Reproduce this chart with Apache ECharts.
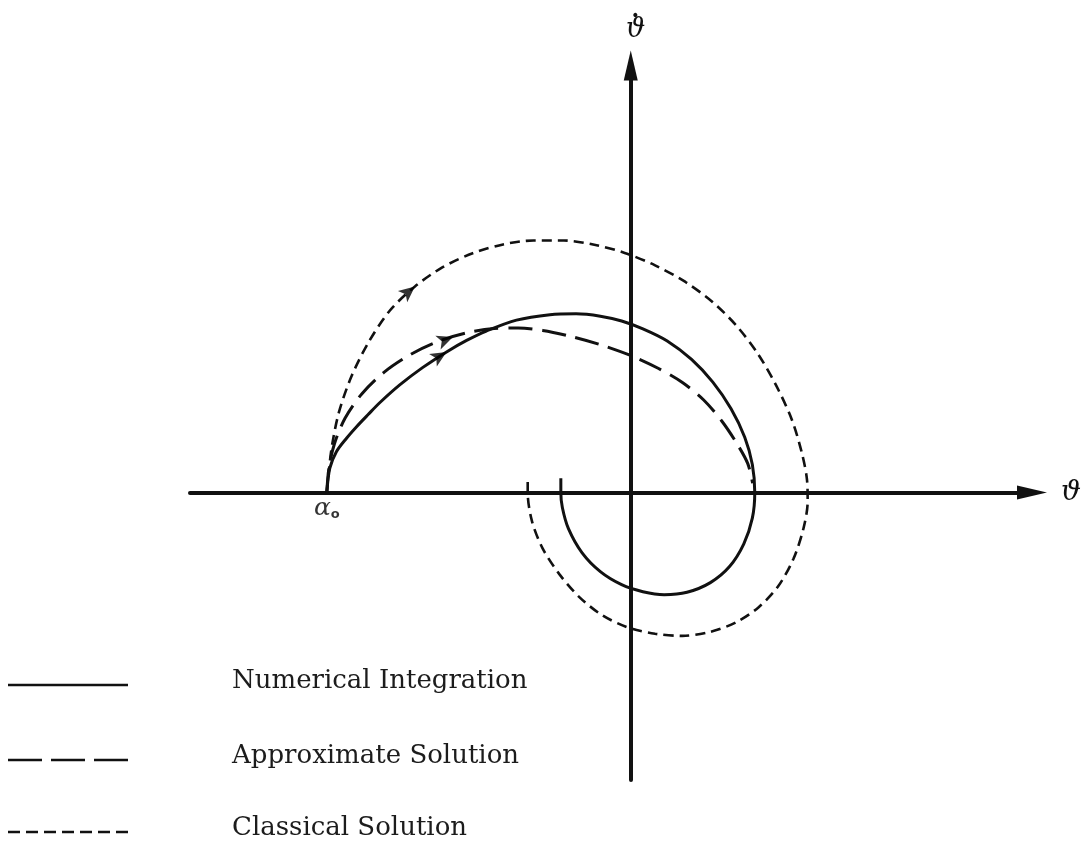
<!DOCTYPE html>
<html>
<head>
<meta charset="utf-8">
<script src="https://cdn.jsdelivr.net/npm/echarts@6/dist/echarts.min.js"></script>
<style>
  html, body { margin: 0; padding: 0; background: #ffffff; }
  #chart { width: 1084px; height: 848px; }
</style>
</head>
<body>
<div id="chart"></div>
<script>
// Phase plane (theta, theta-dot), angles scaled so that the release angle alpha0 = -1.
const alphaZero = -1.0;

const seriesNames = ['Numerical Integration', 'Approximate Solution', 'Classical Solution'];

// Numerical integration trajectory
const numerical = [
  [-1.000, 0.000], [-0.990, 0.080], [-0.968, 0.135], [-0.935, 0.179], [-0.902, 0.217],
  [-0.864, 0.257], [-0.826, 0.296], [-0.760, 0.355], [-0.685, 0.412], [-0.606, 0.464],
  [-0.540, 0.502], [-0.475, 0.533], [-0.376, 0.569], [-0.266, 0.587], [-0.180, 0.590],
  [-0.100, 0.582], [-0.030, 0.566], [0.040, 0.540], [0.120, 0.500], [0.200, 0.439],
  [0.270, 0.364], [0.330, 0.276], [0.375, 0.182], [0.400, 0.092], [0.408, 0.000],
  [0.400, -0.085], [0.372, -0.170], [0.325, -0.245], [0.262, -0.298], [0.185, -0.330],
  [0.110, -0.338], [0.040, -0.328], [-0.030, -0.305], [-0.100, -0.262], [-0.160, -0.200],
  [-0.205, -0.120], [-0.225, -0.050], [-0.230, 0.000], [-0.230, 0.047]
];

// Approximate solution (first swing only)
const approximate = [
  [-1.000, 0.000], [-0.993, 0.080], [-0.975, 0.160], [-0.940, 0.245], [-0.885, 0.325],
  [-0.810, 0.398], [-0.720, 0.458], [-0.630, 0.500], [-0.540, 0.527], [-0.450, 0.541],
  [-0.370, 0.543], [-0.290, 0.535], [-0.200, 0.516], [-0.100, 0.488], [0.000, 0.452],
  [0.090, 0.410], [0.170, 0.363], [0.240, 0.305], [0.300, 0.235], [0.350, 0.160],
  [0.385, 0.095], [0.401, 0.030]
];

// Classical solution
const classical = [
  [-1.000, 0.000], [-0.985, 0.140], [-0.960, 0.265], [-0.918, 0.385], [-0.862, 0.497],
  [-0.793, 0.600], [-0.710, 0.680], [-0.620, 0.743], [-0.520, 0.790], [-0.420, 0.819],
  [-0.320, 0.832], [-0.220, 0.832], [-0.120, 0.818], [-0.020, 0.791], [0.080, 0.750],
  [0.180, 0.695], [0.270, 0.628], [0.350, 0.548], [0.420, 0.455], [0.480, 0.350],
  [0.530, 0.240], [0.563, 0.130], [0.580, 0.040], [0.582, -0.030], [0.568, -0.120],
  [0.535, -0.220], [0.485, -0.310], [0.420, -0.380], [0.345, -0.430], [0.260, -0.461],
  [0.170, -0.474], [0.080, -0.467], [-0.010, -0.446], [-0.095, -0.405], [-0.170, -0.345],
  [-0.235, -0.270], [-0.290, -0.185], [-0.325, -0.095], [-0.339, 0.000], [-0.339, 0.053]
];

// Where each trajectory carries its direction arrow: segment index and fraction along it
const arrowAt = [[9, 0.0], [7, 0.5], [6, 0.0]];

const curves = [numerical, approximate, classical];
const dashes = ['solid', [24, 10], [10, 6]];
const widths = [3, 3, 2.6];
const legendDashes = [null, [34, 9], [12, 6]];
const ink = '#111111';

const chart = echarts.init(document.getElementById('chart'), null, { renderer: 'canvas' });

const lineSeries = curves.map((data, i) => ({
  name: seriesNames[i],
  type: 'line',
  data: data,
  smooth: 0.3,
  showSymbol: false,
  symbol: 'none',
  silent: true,
  lineStyle: { color: ink, width: widths[i], type: dashes[i], cap: 'butt' },
  z: 3
}));

const alphaSeries = {
  name: 'alpha0',
  type: 'scatter',
  data: [[alphaZero, 0]],
  symbolSize: 0,
  silent: true,
  label: {
    show: true, position: 'bottom', distance: 4,
    formatter: '{a|\u03B1}{s|o}',
    rich: {
      a: { fontFamily: 'DejaVu Serif', fontStyle: 'italic', fontSize: 25, color: '#000000' },
      s: { fontFamily: 'DejaVu Sans', fontWeight: 'bold', fontSize: 13, color: '#000000', padding: [12, 0, 0, 0] }
    }
  }
};

const baseOption = {
  backgroundColor: '#ffffff',
  animation: false,
  grid: { left: 190, right: 51, top: 62, bottom: 68 },
  xAxis: {
    type: 'value', min: -1.45, max: 1.32,
    name: '\u03D1', nameLocation: 'end', nameGap: 29,
    nameTextStyle: { fontFamily: 'DejaVu Serif', fontStyle: 'italic', fontSize: 28, color: ink, verticalAlign: 'middle' },
    axisLine: { onZero: true, symbol: ['none', 'triangle'], symbolSize: [14, 30], lineStyle: { color: ink, width: 4 } },
    axisTick: { show: false }, axisLabel: { show: false }, splitLine: { show: false }
  },
  yAxis: {
    type: 'value', min: -0.95, max: 1.41,
    // theta with an over-dot: the dot sits on its own short line above the glyph
    name: '{d|.}\n{t|\u03D1}', nameLocation: 'end', nameGap: 24,
    nameTextStyle: {
      align: 'center', color: ink,
      rich: {
        d: { fontFamily: 'DejaVu Serif', fontWeight: 'bold', fontSize: 22, color: ink, lineHeight: 13, padding: [0, 0, 0, 9] },
        t: { fontFamily: 'DejaVu Serif', fontStyle: 'italic', fontSize: 27, color: ink, lineHeight: 24, padding: [0, 0, 0, 10] }
      }
    },
    axisLine: { onZero: true, symbol: ['none', 'triangle'], symbolSize: [14, 30], lineStyle: { color: ink, width: 4 } },
    axisTick: { show: false }, axisLabel: { show: false }, splitLine: { show: false }
  },
  series: lineSeries.concat([alphaSeries])
};

chart.setOption(baseOption);

// Direction arrows: interpolate along the trajectory and orient along the local tangent in pixel space
const arrowData = curves.map((data, i) => {
  const k = arrowAt[i][0], t = arrowAt[i][1];
  const a = data[k], b = data[k + 1];
  const pt = [a[0] + (b[0] - a[0]) * t, a[1] + (b[1] - a[1]) * t];
  const p0 = chart.convertToPixel({ gridIndex: 0 }, data[k - 1]);
  const p1 = chart.convertToPixel({ gridIndex: 0 }, data[k + 1]);
  const ang = Math.atan2(-(p1[1] - p0[1]), p1[0] - p0[0]) * 180 / Math.PI;
  return { value: pt, symbolRotate: ang - 90 };
});

// Legend drawn as line samples and labels down the lower-left corner
const legendRows = [685, 760, 832];
const legendGraphic = [];
seriesNames.forEach((name, i) => {
  legendGraphic.push({
    type: 'line', silent: true,
    shape: { x1: 8, y1: legendRows[i], x2: 128, y2: legendRows[i] },
    style: { stroke: ink, lineWidth: 2.5, lineDash: legendDashes[i] }
  });
  legendGraphic.push({
    type: 'text', silent: true, left: 232, top: legendRows[i] - 17,
    style: { text: name, fontFamily: 'DejaVu Serif', fontSize: 26, fill: '#1c1c1c' }
  });
});

chart.setOption({
  series: baseOption.series.concat([{
    name: 'arrows',
    type: 'scatter',
    data: arrowData,
    symbol: 'arrow',
    symbolSize: [11, 16],
    itemStyle: { color: '#000000' },
    silent: true,
    z: 5
  }]),
  graphic: legendGraphic
});
</script>
</body>
</html>
